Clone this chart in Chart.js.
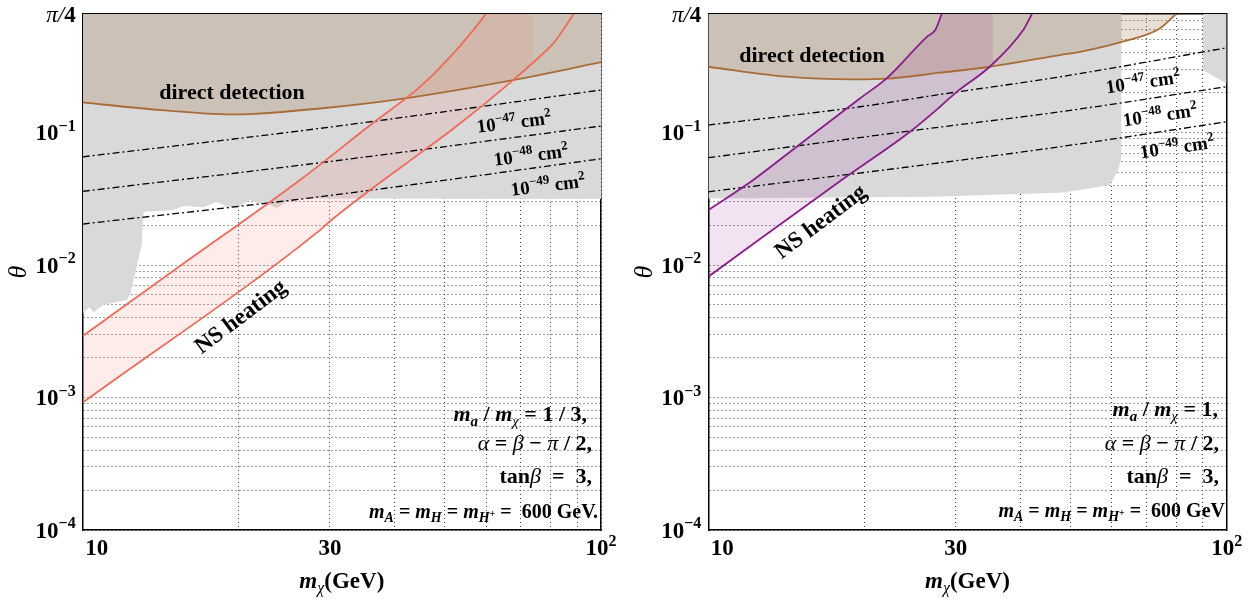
<!DOCTYPE html>
<html><head><meta charset="utf-8">
<script src="https://cdn.jsdelivr.net/npm/chart.js@4.4.0/dist/chart.umd.min.js"></script>
<style>
html,body{margin:0;padding:0;background:#fff;}
#wrap{position:relative;width:1260px;height:599px;}
.panel{position:absolute;top:0;width:630px;height:599px;}
</style></head><body>
<div id="wrap">
  <div class="panel" style="left:0"><canvas id="left" width="630" height="599"></canvas></div>
  <div class="panel" style="left:630px"><canvas id="right" width="630" height="599"></canvas></div>
</div>
<script>
// axes
const xMin = 10, xMax = 100, yMin = 1e-4, yMax = Math.PI / 4;
const xTickValues = [10, 30, 100];
const yTickValues = [1e-4, 1e-3, 1e-2, 1e-1, Math.PI / 4];
const xGrid = [10, 20, 30, 40, 50, 60, 70, 80, 90, 100];
const yGrid = [];
[1e-4, 1e-3, 1e-2, 1e-1].forEach(d => [1,2,3,4,5,6,7,8,9].forEach(k => { if (k*d < yMax) yGrid.push(k*d); }));

// ---- left panel: m_a/m_chi = 1/3
const lDDx = [10, 13.07, 19.5, 21.0, 28.7, 40.9, 67.6, 100];
const lDDy = [0.169, 0.152, 0.137, 0.138, 0.152, 0.179, 0.249, 0.340];
const lS47x = [10, 28.7, 100], lS47y = [0.0656, 0.1076, 0.2096];
const lS48x = [10, 28.7, 100], lS48y = [0.0360, 0.0592, 0.112];
const lS49x = [10, 28.7, 100], lS49y = [0.0204, 0.0328, 0.0634];
const lGrayX = [10, 10.3, 10.5, 10.96, 12.16, 12.34, 13.0, 13.09, 13.19, 14.96, 15.64, 17.09, 18.14, 18.96, 19.82, 21.03, 21.66, 22.98, 23.68, 25.12, 27.46, 100];
const lGrayY = [0.0043, 0.0048, 0.0044, 0.0050, 0.00545, 0.00594, 0.01416, 0.02455, 0.02523, 0.0260, 0.02786, 0.02726, 0.03007, 0.02753, 0.02692, 0.03095, 0.02951, 0.02838, 0.02692, 0.03095, 0.03184, 0.03148];
const lNSupX = [10, 14.96, 26.26, 36.3, 44.8, 51.9, 56.7, 60.0];
const lNSupY = [0.00291, 0.00906, 0.0439, 0.118, 0.222, 0.396, 0.594, 0.785];
const lNSloX = [10, 28.7, 30.2, 46.1, 51.5, 67.7, 78.6, 80.9, 88.6];
const lNSloY = [0.000915, 0.01836, 0.0219, 0.0760, 0.1045, 0.249, 0.420, 0.471, 0.785];
const lBandEnd = 73.9;

// ---- right panel: m_a/m_chi = 1
const rDDx = [10, 14.16, 19.04, 22.08, 27.99, 34.9, 47.7, 52.1, 62.7, 74.3, 79.8];
const rDDy = [0.314, 0.264, 0.252, 0.255, 0.283, 0.314, 0.385, 0.407, 0.484, 0.611, 0.785];
const rS47x = [10, 19.62, 27.99, 47.7, 100], rS47y = [0.114, 0.1567, 0.194, 0.2636, 0.4365];
const rS48x = [10, 26.77, 47.7, 100], rS48y = [0.0646, 0.1076, 0.1435, 0.222];
const rS49x = [10, 26.77, 47.7, 100], rS49y = [0.0357, 0.0578, 0.0782, 0.1206];
const rGrayX = [10, 26.8, 47.7, 52.1, 59.6, 61.7, 62.5, 62.7, 62.7];
const rGrayY = [0.0318, 0.0328, 0.0352, 0.0368, 0.0402, 0.0521, 0.0619, 0.0782, 0.785];
const rCornerX = [89.9, 89.9, 100];
const rCornerY = [0.785, 0.2966, 0.235];
const rNSupX = [10, 12.21, 14.81, 19.6, 22.08, 26.4, 27.4, 28.2];
const rNSupY = [0.026, 0.0439, 0.0782, 0.181, 0.2564, 0.528, 0.594, 0.785];
const rNSloX = [10, 18.08, 24.5, 27.99, 30.15, 34.9, 40.5, 42.1];
const rNSloY = [0.00817, 0.0439, 0.1015, 0.1567, 0.203, 0.314, 0.594, 0.785];
const rBandEnd = 35.4;

// colours
const GRAY = '#d9d9d9';
const BROWN = '#a86c38', BROWN_FILL = 'rgba(155,102,50,0.21)';
const RED = '#ee6b5a', RED_FILL = 'rgba(250,128,114,0.15)';
const PURPLE = '#8b1c8b', PURPLE_FILL = 'rgba(128,0,128,0.11)';

const SERIF = '"Liberation Serif","Times New Roman",serif';
function fontOf(r) {
  const st = r.style === 'bi' ? 'italic bold ' : r.style === 'i' ? 'italic ' : r.style === 'b' ? 'bold ' : '';
  return st + r.size + 'px ' + SERIF;
}
function R(t, size, style) { return {t, size, style: style || 'b', dy: 0}; }
function SUP(t, size, style) { return {t, size: Math.round(size * 0.68), style: style || 'b', dy: -size * 0.4}; }
function SUB(t, size, style) { return {t, size: Math.round(size * 0.68), style: style || 'b', dy: size * 0.22}; }

// draws mixed-font text, (x,y) is the visual centre line
function drawRuns(ctx, runs, x, y, align, angle) {
  const main = Math.max(...runs.map(r => r.size));
  ctx.save();
  ctx.translate(x, y);
  if (angle) ctx.rotate(angle * Math.PI / 180);
  ctx.textBaseline = 'alphabetic';
  let w = 0;
  const ws = runs.map(r => { ctx.font = fontOf(r); const m = ctx.measureText(r.t).width; w += m; return m; });
  let cx = align === 'right' ? -w : align === 'left' ? 0 : -w / 2;
  const base = main * 0.33;
  runs.forEach((r, i) => { ctx.font = fontOf(r); ctx.fillText(r.t, cx, base + r.dy); cx += ws[i]; });
  ctx.restore();
}

const yTickRuns = ['−4', '−3', '−2', '−1'].map(e => [R('10', 23), SUP(e, 23)]);
yTickRuns.push([R('π/', 23, 'i'), R('4', 23)]);
const xTickRuns = [[R('10', 23)], [R('30', 23)], [R('10', 23), SUP('2', 23)]];
const xTickShift = [14, 0, 0];

function sigma(e, s) { return [R('10', s), SUP('−' + e, s), R(' cm', s), SUP('2', s)]; }
function params(ratio, last) {
  const s = 22, t = 20;
  return [
    [R('m', s, 'bi'), SUB('a', s, 'bi'), R(' / ', s), R('m', s, 'bi'), SUB('χ', s, 'i'), R(' = ' + ratio, s)],
    [R('α', s, 'i'), R(' = ', s), R('β', s, 'i'), R(' − ', s), R('π', s, 'i'), R(' / 2,', s)],
    [R('tan', s), R('β', s, 'i'), R('  =  3,', s)],
    [R('m', t, 'bi'), SUB('A', t, 'bi'), R(' = ', t), R('m', t, 'bi'), SUB('H', t, 'bi'), R(' = ', t),
     R('m', t, 'bi'), SUB('H', t, 'bi'), {t: '+', size: 10, style: 'b', dy: -1}, R(' =  600 GeV' + last, t)]
  ];
}

const textPlugin = {
  id: 'texts',
  afterDraw(chart) {
    const ctx = chart.ctx, xs = chart.scales.x, ys = chart.scales.y, ca = chart.chartArea;
    const p = chart.options.plugins.texts;
    ctx.save();
    ctx.fillStyle = '#000';
    yTickValues.forEach((v, i) => drawRuns(ctx, yTickRuns[i], ca.left - 7, ys.getPixelForValue(v), 'right', 0));
    xTickValues.forEach((v, i) => drawRuns(ctx, xTickRuns[i], xs.getPixelForValue(v) + xTickShift[i], ca.bottom + 17.5, 'center', 0));
    drawRuns(ctx, [R('m', 23, 'bi'), SUB('χ', 23, 'i'), R('(GeV)', 23)], (ca.left + ca.right) / 2, 580, 'center', 0);
    drawRuns(ctx, [R('θ', 26, 'i')], ca.left - 65, (ca.top + ca.bottom) / 2, 'center', -90);
    p.items.forEach(it => drawRuns(ctx, it.runs, it.x, it.y, it.align || 'center', it.angle || 0));
    ctx.restore();
  }
};

function pts(xs, ys) { return xs.map((x, i) => ({x, y: ys[i]})); }
function ds(xs, ys, o) {
  return Object.assign({data: pts(xs, ys), pointRadius: 0, tension: 0, fill: false, borderWidth: 1.8}, o);
}
const DASH = {borderColor: '#000', borderWidth: 1.3, borderDash: [7, 3, 2, 3], order: 2};
const SMOOTH = {cubicInterpolationMode: 'monotone'};
const NOLINE = {borderColor: 'rgba(0,0,0,0)', borderWidth: 0};

function panelDatasets(P, lineCol, bandCol) {
  const list = [
    ds(P.upX, P.upY, Object.assign({borderColor: lineCol, order: 1}, SMOOTH)),
    ds(P.loX, P.loY, Object.assign({borderColor: lineCol, order: 1}, SMOOTH)),
    ds(P.upX.concat([P.bandEnd]), P.upY.concat([yMax]), Object.assign({fill: {target: 1}, backgroundColor: bandCol, order: 4}, NOLINE, SMOOTH)),
    ds(P.s47x, P.s47y, Object.assign({}, DASH, SMOOTH)),
    ds(P.s48x, P.s48y, Object.assign({}, DASH, SMOOTH)),
    ds(P.s49x, P.s49y, Object.assign({}, DASH, SMOOTH)),
    ds(P.ddX, P.ddY, Object.assign({borderColor: BROWN, order: 1}, SMOOTH)),
    ds(P.ddX, P.ddY, Object.assign({fill: 'end', backgroundColor: BROWN_FILL, order: 6}, NOLINE, SMOOTH)),
    ds(P.grayX, P.grayY, Object.assign({fill: 'end', backgroundColor: GRAY, order: 8}, NOLINE))
  ];
  if (P.cornerX) list.push(ds(P.cornerX, P.cornerY, Object.assign({fill: 'end', backgroundColor: GRAY, order: 8}, NOLINE)));
  return list;
}

function makeChart(id, P) {
  const gridOpts = {color: '#3a3a3a', lineWidth: 1, drawTicks: false};
  return new Chart(document.getElementById(id), {
    type: 'line',
    data: {datasets: P.datasets},
    options: {
      responsive: false, animation: false, devicePixelRatio: 1, events: [],
      layout: {padding: {top: 14, right: P.padRight, left: 0, bottom: 0}},
      plugins: {legend: {display: false}, tooltip: {enabled: false}, texts: {items: P.items}},
      scales: {
        x: {type: 'logarithmic', position: 'bottom', min: xMin, max: xMax, grid: gridOpts,
            border: {display: true, color: '#000', width: 1.5, dash: [1, 3]}, ticks: {display: false},
            afterBuildTicks: s => { s.ticks = xGrid.map(v => ({value: v})); },
            afterFit: s => { s.height = 599 - 530; }},
        y: {type: 'logarithmic', position: 'left', min: yMin, max: yMax, grid: gridOpts,
            border: {display: true, color: '#000', width: 1.5, dash: [1, 3]}, ticks: {display: false},
            afterBuildTicks: s => { s.ticks = yGrid.map(v => ({value: v})); },
            afterFit: s => { s.width = P.axisLeft; }},
        x2: {type: 'linear', position: 'top', grid: {display: false, drawTicks: false}, ticks: {display: false},
             border: {display: true, color: '#000', width: 1.5}, afterFit: s => { s.height = 0; }},
        y2: {type: 'linear', position: 'right', grid: {display: false, drawTicks: false}, ticks: {display: false},
             border: {display: true, color: '#000', width: 1.5}, afterFit: s => { s.width = 0; }}
      }
    },
    plugins: [textPlugin]
  });
}

const leftP = {upX: lNSupX, upY: lNSupY, loX: lNSloX, loY: lNSloY, bandEnd: lBandEnd,
  s47x: lS47x, s47y: lS47y, s48x: lS48x, s48y: lS48y, s49x: lS49x, s49y: lS49y,
  ddX: lDDx, ddY: lDDy, grayX: lGrayX, grayY: lGrayY};
const rightP = {upX: rNSupX, upY: rNSupY, loX: rNSloX, loY: rNSloY, bandEnd: rBandEnd,
  s47x: rS47x, s47y: rS47y, s48x: rS48x, s48y: rS48y, s49x: rS49x, s49y: rS49y,
  ddX: rDDx, ddY: rDDy, grayX: rGrayX, grayY: rGrayY, cornerX: rCornerX, cornerY: rCornerY};

const lPar = params('1 / 3,', '.');
const rPar = params('1,', '');

makeChart('left', {
  datasets: panelDatasets(leftP, RED, RED_FILL),
  padRight: 29, axisLeft: 82.7,
  items: [
    {runs: [R('direct detection', 22)], x: 232, y: 92},
    {runs: sigma('47', 19), x: 514, y: 122, angle: -7},
    {runs: sigma('48', 19), x: 531, y: 155, angle: -7},
    {runs: sigma('49', 19), x: 548, y: 185, angle: -7},
    {runs: [R('NS heating', 23)], x: 240, y: 316, angle: -37},
    {runs: lPar[0], x: 587, y: 414, align: 'right'},
    {runs: lPar[1], x: 592, y: 443, align: 'right'},
    {runs: lPar[2], x: 592, y: 476, align: 'right'},
    {runs: lPar[3], x: 598, y: 511, align: 'right'}
  ]
});

makeChart('right', {
  datasets: panelDatasets(rightP, PURPLE, PURPLE_FILL),
  padRight: 33.3, axisLeft: 78.3,
  items: [
    {runs: [R('direct detection', 22)], x: 182, y: 55},
    {runs: sigma('47', 19), x: 513, y: 82, angle: -8},
    {runs: sigma('48', 19), x: 530, y: 115, angle: -8},
    {runs: sigma('49', 19), x: 547, y: 147, angle: -8},
    {runs: [R('NS heating', 23)], x: 190, y: 221, angle: -37},
    {runs: rPar[0], x: 588, y: 409, align: 'right'},
    {runs: rPar[1], x: 589, y: 443, align: 'right'},
    {runs: rPar[2], x: 589, y: 476, align: 'right'},
    {runs: rPar[3], x: 595, y: 510, align: 'right'}
  ]
});
</script>
</body></html>
